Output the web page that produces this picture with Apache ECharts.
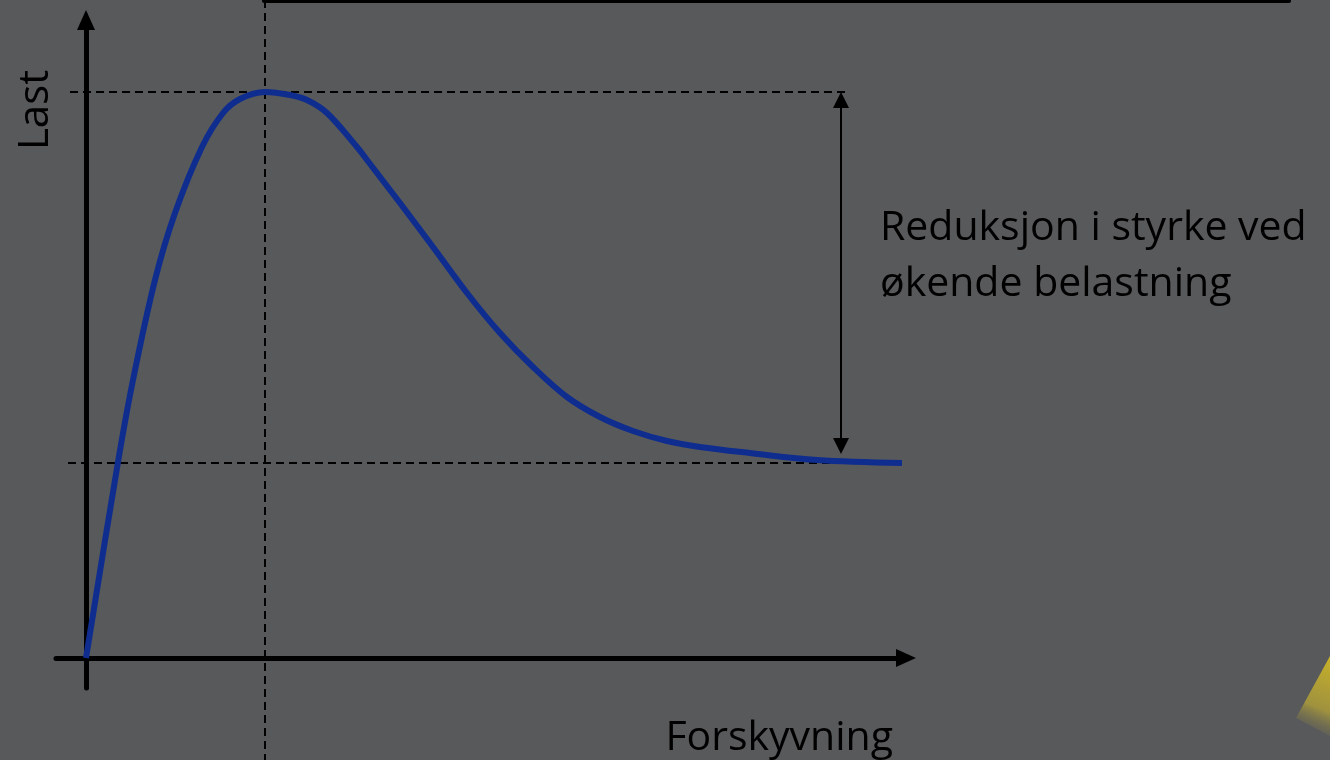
<!DOCTYPE html>
<html>
<head>
<meta charset="utf-8">
<title>Last og forskyvning</title>
<script src="https://cdn.jsdelivr.net/npm/echarts@6/dist/echarts.min.js"></script>
<style>
  html, body { margin: 0; padding: 0; background: #58595b; }
  #chart { width: 1330px; height: 760px; }
</style>
</head>
<body>
<div id="chart"></div>
<script>
// kurven lest av figuren: forskyvning (x) og last (y)
const forskyvning = [0, 3.2, 4.7, 6.9, 8.9, 11.6, 13.7, 15.4, 17.9, 20.4, 22.1, 24.1, 27.1, 28.1, 31.4, 34.7, 38.1, 41.4, 44.7, 48.1, 51.4, 54.7, 58.1, 61.4, 66.4, 73.1, 81.6]
const last = [0, 19.6, 27.8, 37.8, 44.5, 51.1, 54.5, 55.9, 56.6, 56.3, 55.8, 54.5, 51.1, 49.8, 45.5, 41.1, 36.5, 32.5, 29.1, 26.1, 24.1, 22.7, 21.7, 21.1, 20.5, 19.8, 19.5]

// akser og tekster
const xRange = [-3, 82]
const yRange = [-3, 63.8]
const xName = 'Forskyvning'
const yName = 'Last'
const note = ['Reduksjon i styrke ved', 'økende belastning']

const chart = echarts.init(document.getElementById('chart'))

const curve = forskyvning.map((x, i) => [x, last[i]])
// toppunkt og restlast
let peakIdx = 0
last.forEach((v, i) => { if (v > last[peakIdx]) peakIdx = i })
const peakX = forskyvning[peakIdx]
const peakY = last[peakIdx]
const restY = last[last.length - 1]
const arrowX = 75.5

const dashed = { color: '#000', width: 2, type: [8, 5] }
const guide = (name, data) => ({
  name: name,
  type: 'line',
  data: data,
  symbol: 'none',
  clip: false,
  silent: true,
  lineStyle: dashed,
  z: 2
})

const font = '"Open Sans", sans-serif'

const option = {
  backgroundColor: '#58595b',
  animation: false,
  grid: { left: 56, right: 424, top: 20, bottom: 72 },
  xAxis: {
    type: 'value',
    min: xRange[0],
    max: xRange[1],
    axisLine: {
      onZero: true,
      symbol: ['none', 'triangle'],
      symbolSize: [18, 20],
      lineStyle: { color: '#000', width: 5 }
    },
    axisTick: { show: false },
    axisLabel: { show: false },
    splitLine: { show: false }
  },
  yAxis: {
    type: 'value',
    min: yRange[0],
    max: yRange[1],
    axisLine: {
      onZero: true,
      symbol: ['none', 'triangle'],
      symbolSize: [18, 20],
      lineStyle: { color: '#000', width: 5 }
    },
    axisTick: { show: false },
    axisLabel: { show: false },
    splitLine: { show: false }
  },
  series: [
    guide('topp', [[-1.6, peakY], [arrowX + 0.4, peakY]]),
    guide('topp-x', [[peakX, 65.8], [peakX, -10.2]]),
    guide('rest', [[-1.8, restY], [arrowX, restY]]),
    {
      name: 'pil',
      type: 'line',
      data: [],
      silent: true,
      markLine: {
        silent: true,
        symbol: ['triangle', 'triangle'],
        symbolSize: 16,
        label: { show: false },
        lineStyle: { color: '#000', width: 2, type: 'solid' },
        emphasis: { disabled: true },
        data: [[{ coord: [arrowX, peakY - 0.8] }, { coord: [arrowX, restY + 1.7] }]]
      }
    },
    {
      name: yName,
      type: 'line',
      data: curve,
      smooth: 0.35,
      symbol: 'none',
      silent: true,
      lineStyle: { color: '#0f2d8f', width: 6 },
      z: 3
    }
  ],
  graphic: [
    {
      type: 'rect',
      shape: { x: 262, y: -3, width: 1029, height: 6, r: 2 },
      style: { fill: '#000' }
    },
    {
      type: 'polygon',
      shape: { points: [[1330, 656], [1296, 718], [1330, 736]] },
      style: {
        fill: new echarts.graphic.LinearGradient(1, 0, 0, 1, [
          { offset: 0, color: 'rgba(200,178,40,1)' },
          { offset: 0.6, color: 'rgba(190,170,50,0.7)' },
          { offset: 1, color: 'rgba(88,89,91,0)' }
        ])
      }
    },
    {
      type: 'text',
      x: 36,
      y: 110,
      rotation: Math.PI / 2,
      style: { text: yName, font: '42px ' + font, fill: '#000', align: 'center', verticalAlign: 'middle' }
    },
    {
      type: 'text',
      x: 893,
      y: 738,
      style: { text: xName, font: '41px ' + font, fill: '#000', align: 'right', verticalAlign: 'middle' }
    },
    {
      type: 'text',
      x: 880,
      y: 228,
      style: { text: note[0], font: '41px ' + font, fill: '#000', align: 'left', verticalAlign: 'middle' }
    },
    {
      type: 'text',
      x: 880,
      y: 284,
      style: { text: note[1], font: '41px ' + font, fill: '#000', align: 'left', verticalAlign: 'middle' }
    }
  ]
}

chart.setOption(option)
</script>
</body>
</html>
